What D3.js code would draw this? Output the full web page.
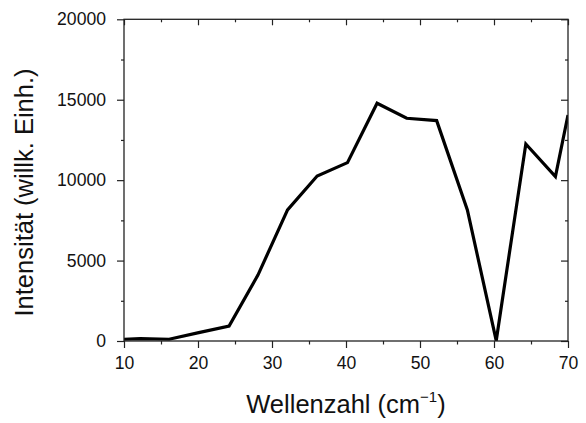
<!DOCTYPE html>
<html><head><meta charset="utf-8">
<script src="https://cdn.jsdelivr.net/npm/d3@7"></script>
<style>body{margin:0;background:#fff}svg{display:block}</style>
</head><body>
<script>
const wavenumbers = [10, 12.2, 16.1, 20.1, 24.2, 28.1, 32.1, 36.1, 40.2, 44.2, 48.2, 52.25, 56.4, 60.3, 64.3, 68.3, 70];
const intensities = [110, 150, 110, 520, 930, 4100, 8150, 10260, 11090, 14780, 13850, 13700, 8150, 20, 12250, 10220, 14050];
const xTicks = [10, 20, 30, 40, 50, 60, 70];
const xMinor = [15, 25, 35, 45, 55, 65];
const yTicks = [0, 5000, 10000, 15000, 20000];
const yMinor = [2500, 7500, 12500, 17500];

const W = 586, H = 423;
const L = 124, R = 568, T = 19.3, B = 341;
const font = "'Liberation Sans', Arial, Helvetica, sans-serif";
const svg = d3.select("body").append("svg").attr("width", W).attr("height", H);
const x = d3.scaleLinear().domain([10, 70]).range([L, R]);
const y = d3.scaleLinear().domain([0, 20000]).range([B, T]);

svg.append("clipPath").attr("id", "clip").append("rect")
  .attr("x", L).attr("y", T).attr("width", R - L).attr("height", B - T);

const line = d3.line().x((d, i) => x(wavenumbers[i])).y(d => y(d));
svg.append("path").datum(intensities).attr("clip-path", "url(#clip)")
  .attr("d", line).attr("fill", "none").attr("stroke", "#000")
  .attr("stroke-width", 3.2).attr("stroke-linejoin", "miter");

const ax = "#222";
function styleAxis(g) {
  g.select(".domain").remove();
  g.selectAll("line").attr("stroke", ax).attr("stroke-width", 1.2);
  g.selectAll("text").attr("font-family", font).attr("font-size", 17.6).attr("fill", "#111");
}
// bottom
const gb = svg.append("g").attr("transform", `translate(0,${B})`)
  .call(d3.axisBottom(x).tickValues(xTicks).tickSize(7).tickPadding(8.5).tickFormat(d3.format("d")));
styleAxis(gb);
svg.append("g").attr("transform", `translate(0,${B})`)
  .call(d3.axisBottom(x).tickValues(xMinor).tickSize(3.5).tickFormat("")).call(styleAxis);
// top (inward)
svg.append("g").attr("transform", `translate(0,${T})`)
  .call(d3.axisBottom(x).tickValues(xTicks).tickSize(6).tickFormat("")).call(styleAxis);
svg.append("g").attr("transform", `translate(0,${T})`)
  .call(d3.axisBottom(x).tickValues(xMinor).tickSize(3).tickFormat("")).call(styleAxis);
// left
const gl = svg.append("g").attr("transform", `translate(${L},0)`)
  .call(d3.axisLeft(y).tickValues(yTicks).tickSize(7).tickPadding(11).tickFormat(d3.format("d")));
styleAxis(gl);
svg.append("g").attr("transform", `translate(${L},0)`)
  .call(d3.axisLeft(y).tickValues(yMinor).tickSize(3).tickFormat("")).call(styleAxis);
// right (inward)
svg.append("g").attr("transform", `translate(${R},0)`)
  .call(d3.axisLeft(y).tickValues(yTicks).tickSize(7).tickFormat("")).call(styleAxis);
svg.append("g").attr("transform", `translate(${R},0)`)
  .call(d3.axisLeft(y).tickValues(yMinor).tickSize(3).tickFormat("")).call(styleAxis);

svg.append("rect").attr("x", L).attr("y", T).attr("width", R - L).attr("height", B - T)
  .attr("fill", "none").attr("stroke", ax).attr("stroke-width", 1.3);

// titles
const xt = svg.append("text").attr("x", (L + R) / 2).attr("y", 412.5).attr("text-anchor", "middle")
  .attr("font-family", font).attr("font-size", 25.5).attr("fill", "#111");
xt.append("tspan").text("Wellenzahl (cm");
xt.append("tspan").attr("font-size", 15).attr("dy", -11).text("−1");
xt.append("tspan").attr("dy", 11).text(")");

svg.append("text").attr("transform", `translate(32.5,192.5) rotate(-90)`).attr("text-anchor", "middle")
  .attr("font-family", font).attr("font-size", 25.5).attr("fill", "#111")
  .text("Intensität (willk. Einh.)");
</script>
</body></html>
